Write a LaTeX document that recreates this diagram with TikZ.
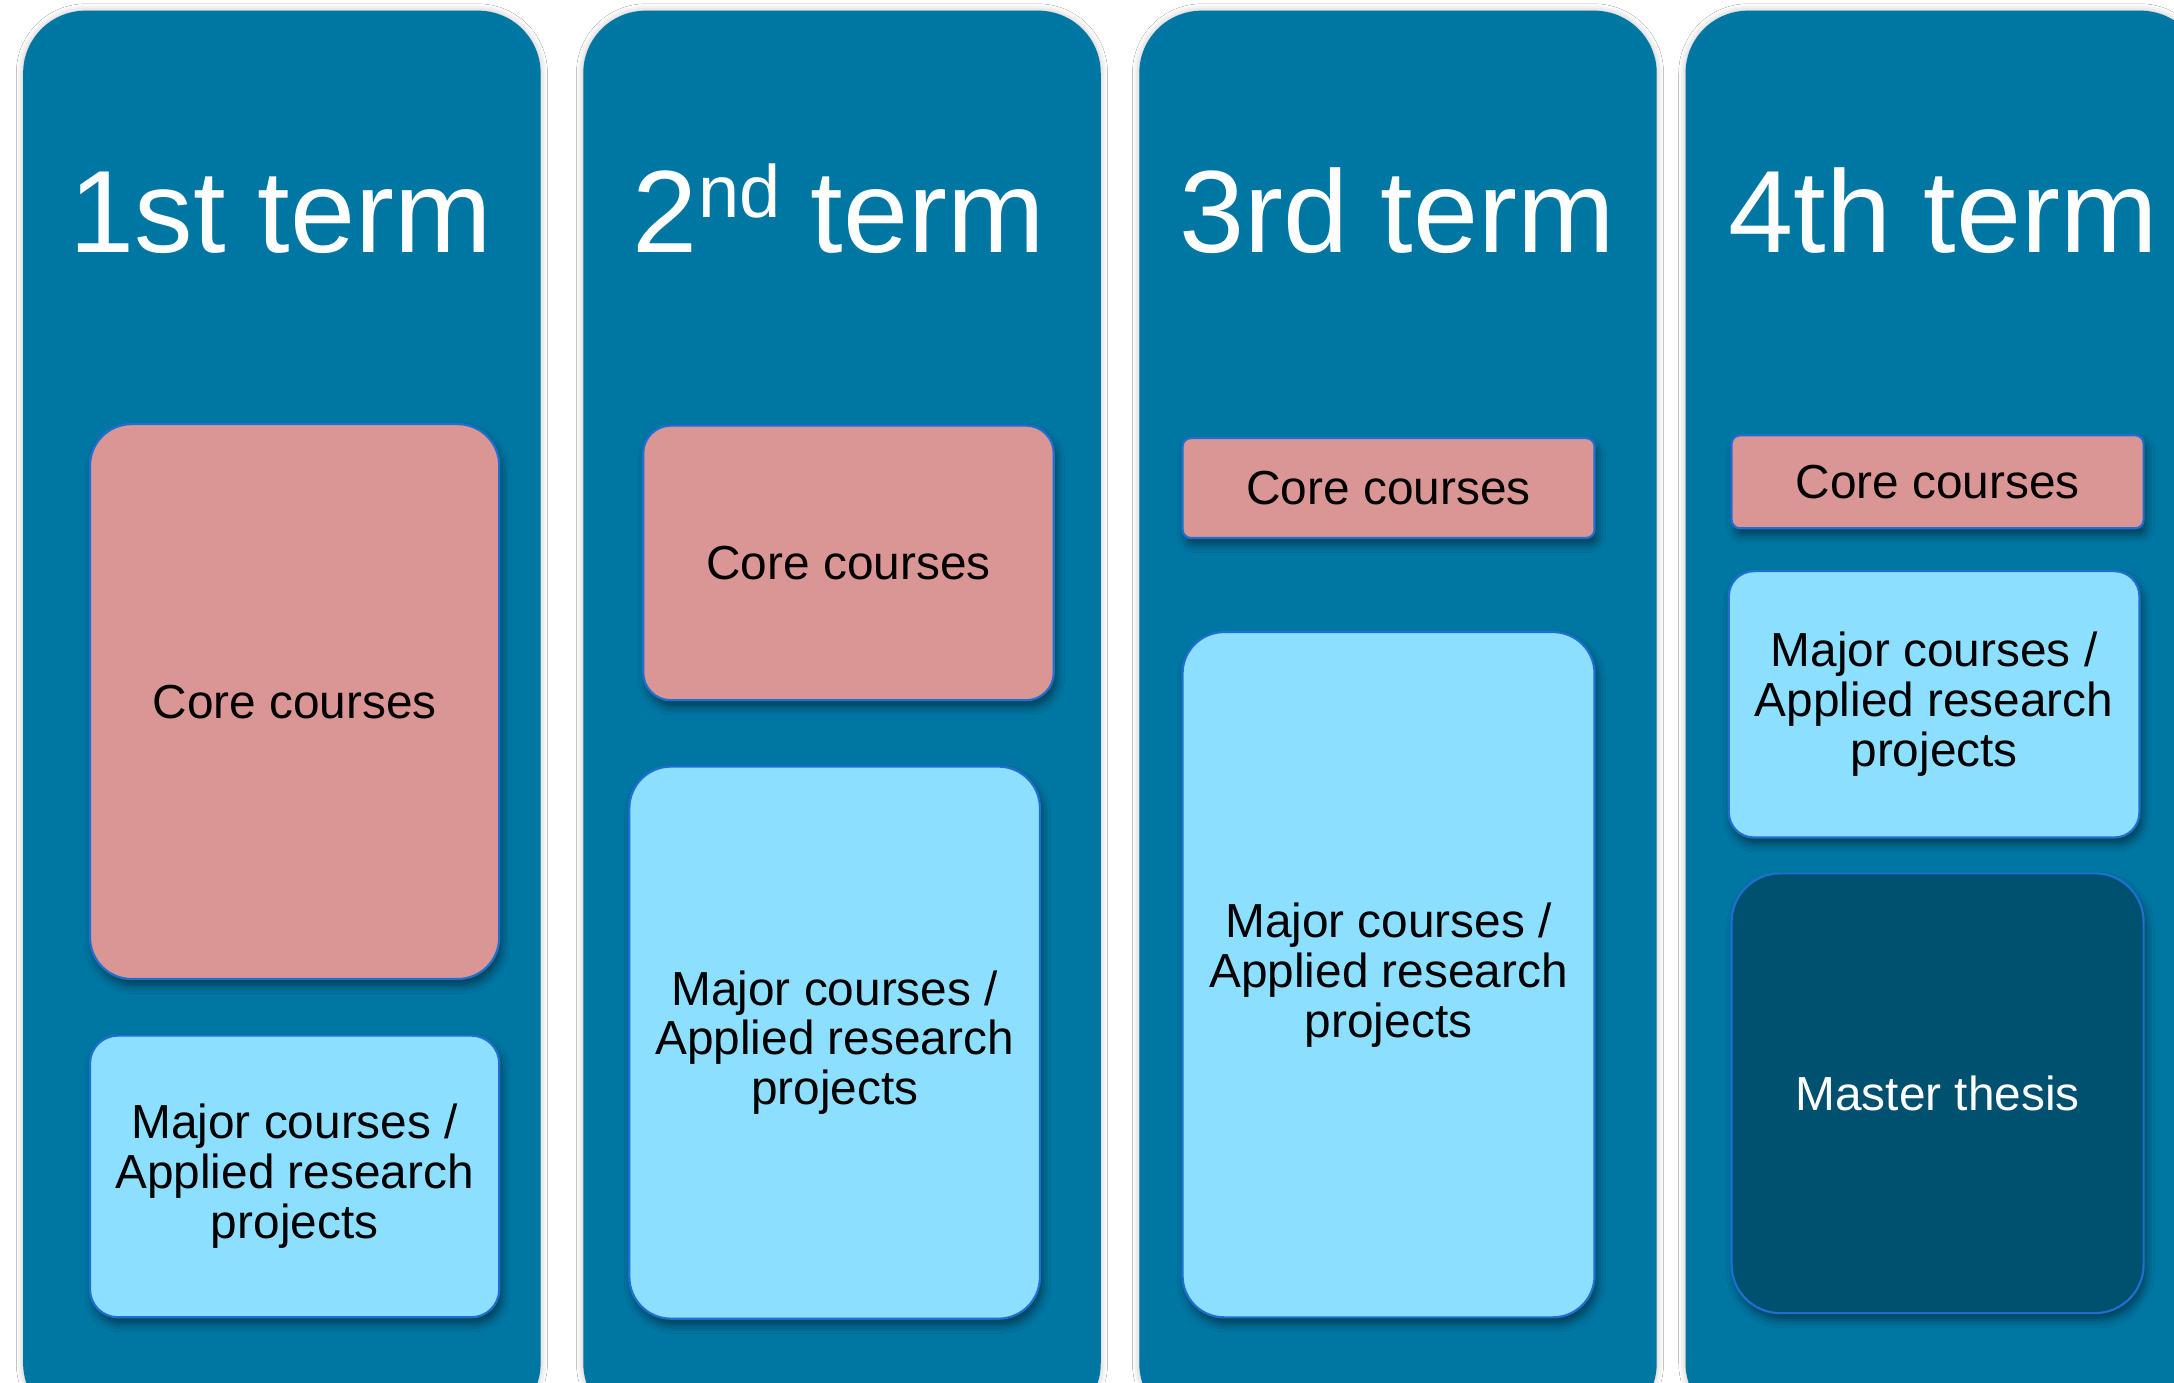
\documentclass[tikz,border=0pt]{standalone}
\usepackage{fontspec}
\setmainfont{Liberation Sans}
\usetikzlibrary{shadows.blur}
\definecolor{colteal}{HTML}{0076A3}
\definecolor{corepink}{HTML}{DA9694}
\definecolor{majblue}{HTML}{8DDFFF}
\definecolor{thesisblue}{HTML}{00506F}
\definecolor{edgeblue}{HTML}{1F6FD0}
\tikzset{
  termcol/.style={fill=colteal, draw=none, rounded corners=0.45cm, anchor=north west,
    minimum width=3.73cm, minimum height=10.2cm, inner sep=0pt,
    blur shadow={shadow xshift=0pt, shadow yshift=0pt, shadow blur radius=1.4pt, shadow opacity=25}},
  termtitle/.style={text=white, font=\fontsize{24}{26}\selectfont, anchor=base, inner sep=0pt},
  boxbase/.style={draw=edgeblue, line width=0.45pt, inner sep=0pt, align=center,
    font=\fontsize{9.8}{10.25}\selectfont,
    blur shadow={shadow xshift=0.6pt, shadow yshift=-1.4pt, shadow blur radius=1.6pt, shadow opacity=45}},
  corebox/.style={boxbase, fill=corepink, text=black},
  majbox/.style={boxbase, fill=majblue, text=black},
  thesisbox/.style={boxbase, fill=thesisblue, text=white}
}
\begin{document}
\begin{tikzpicture}[x=0.01cm,y=-0.01cm]
\useasboundingbox (0,0) rectangle (1568,997);
\clip (0,0) rectangle (1568,997);
\fill[white] (0,0) rectangle (1568,997);
% columns
\node[termcol] (t1) at (16,7) {};
\node[termcol] (t2) at (420,7) {};
\node[termcol] (t3) at (821,7) {};
\node[termcol] (t4) at (1215,7) {};
% titles
\node[termtitle] (h1) at (202.5,182) {1st term};
\node[termtitle] (h2) at (605,182) {2\raisebox{0.3em}{\fontsize{15.2}{17}\selectfont nd}\hspace{-0.02em} term};
\node[termtitle] (h3) at (1007.5,182) {3rd term};
\node[termtitle] (h4) at (1401.5,182) {4th term};
% term 1
\node[corebox, rounded corners=0.3cm, minimum width=2.95cm, minimum height=4.0cm] (c1) at (212.5,506) {Core courses};
\node[majbox, rounded corners=0.2cm, minimum width=2.95cm, minimum height=2.03cm] (m1) at (212.5,848.5) {Major courses /\\Applied research\\projects};
% term 2
\node[corebox, rounded corners=0.2cm, minimum width=2.96cm, minimum height=1.98cm] (c2) at (612,406) {Core courses};
\node[majbox, rounded corners=0.3cm, minimum width=2.96cm, minimum height=3.98cm] (m2) at (602,752) {Major courses /\\Applied research\\projects};
% term 3
\node[corebox, rounded corners=0.06cm, minimum width=2.97cm, minimum height=0.72cm] (c3) at (1001.5,352) {Core courses};
\node[majbox, rounded corners=0.3cm, minimum width=2.97cm, minimum height=4.94cm] (m3) at (1001.5,703) {Major courses /\\Applied research\\projects};
% term 4
\node[corebox, rounded corners=0.06cm, minimum width=2.97cm, minimum height=0.67cm] (c4) at (1397.5,347.5) {Core courses};
\node[majbox, rounded corners=0.18cm, minimum width=2.96cm, minimum height=1.92cm] (m4) at (1395,508) {Major courses /\\Applied research\\projects};
\node[thesisbox, rounded corners=0.35cm, minimum width=2.97cm, minimum height=3.17cm] (th4) at (1397.5,788.5) {Master thesis};
\end{tikzpicture}
\end{document}
